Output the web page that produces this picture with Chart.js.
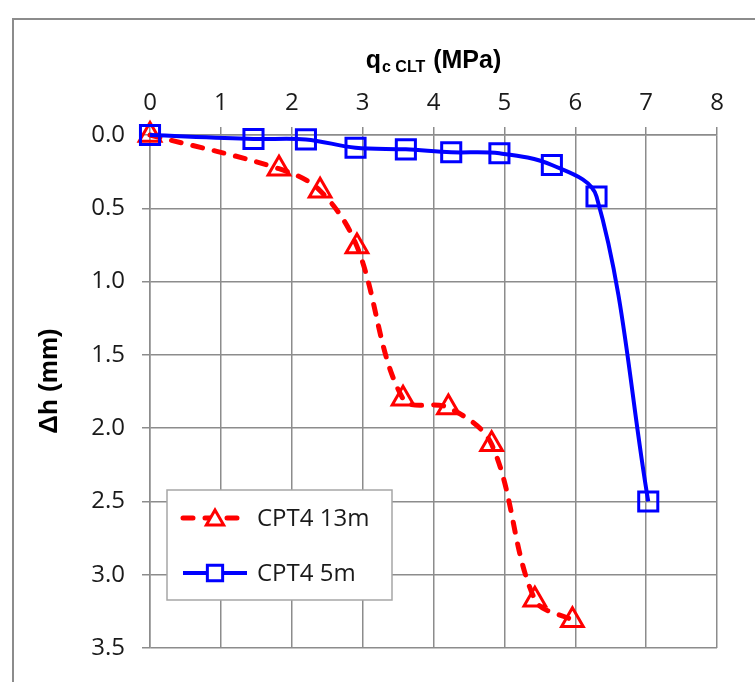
<!DOCTYPE html>
<html>
<head>
<meta charset="utf-8">
<script src="https://cdn.jsdelivr.net/npm/chart.js@4/dist/chart.umd.min.js"></script>
<style>
  html, body { margin: 0; padding: 0; background: #ffffff; overflow: hidden; }
  #wrap { position: relative; width: 755px; height: 682px; }
  #frame { position: absolute; left: 12px; top: 18px; width: 900px; height: 900px;
           border: 2px solid #8c8c8c; box-sizing: border-box; }
  canvas { position: absolute; left: 0; top: 0; }
</style>
</head>
<body>
<div id="wrap">
  <div id="frame"></div>
  <canvas id="chart" width="755" height="682"></canvas>
</div>
<script>
// Cone resistance (MPa) against settlement (mm) for the two CPT4 depths
const qc13m = [0, 1.82, 2.4, 2.92, 3.57, 4.21, 4.82, 5.43, 5.96];
const dh13m = [0, 0.23, 0.38, 0.76, 1.80, 1.86, 2.11, 3.17, 3.31];
const qc5m  = [0, 1.46, 2.20, 2.90, 3.61, 4.25, 4.93, 5.67, 6.30, 7.03];
const dh5m  = [0, 0.027, 0.03, 0.087, 0.098, 0.118, 0.125, 0.205, 0.42, 2.5];

const seriesNames = ['CPT4 13m', 'CPT4 5m'];
const xTicks = [0, 1, 2, 3, 4, 5, 6, 7, 8];
const yTicks = [0.0, 0.5, 1.0, 1.5, 2.0, 2.5, 3.0, 3.5];

const toPoints = (xs, ys) => xs.map((x, i) => ({ x: x, y: ys[i] }));

const gridColor = '#8c8c8c';
const textFamily = "'Open Sans', 'Noto Sans', sans-serif";
const tickFont = { family: textFamily, size: 24 };

// Axis titles (x title carries a subscript) and the boxed legend
const decorations = {
  id: 'decorations',
  afterDraw(chart) {
    const ctx = chart.ctx;
    const area = chart.chartArea;
    ctx.save();
    ctx.fillStyle = '#000000';

    // x title: q with subscript "c CLT", then " (MPa)"
    const big = "bold 25px 'Liberation Sans', Arial, sans-serif";
    const small = "bold 16px 'Liberation Sans', Arial, sans-serif";
    const p1 = 'q', p2 = 'c CLT', p3 = ' (MPa)';
    ctx.font = big; const w1 = ctx.measureText(p1).width; const w3 = ctx.measureText(p3).width;
    ctx.font = small; const w2 = ctx.measureText(p2).width + 2;
    const total = w1 + w2 + w3;
    let tx = (area.left + area.right) / 2 - total / 2;
    const ty = 68;
    ctx.textBaseline = 'alphabetic';
    ctx.textAlign = 'left';
    ctx.font = big; ctx.fillText(p1, tx, ty); tx += w1 + 1;
    ctx.font = small; ctx.fillText(p2, tx, ty + 4); tx += w2 - 1;
    ctx.font = big; ctx.fillText(p3, tx, ty);

    // y title
    ctx.save();
    ctx.translate(50, 381);
    ctx.rotate(-Math.PI / 2);
    ctx.font = "bold 26px 'Liberation Sans', Arial, sans-serif";
    ctx.textAlign = 'center';
    ctx.textBaseline = 'middle';
    ctx.fillText('\u0394h (mm)', 0, 0);
    ctx.restore();

    // legend box
    const lx = area.left + 17, ly = area.top + 355, lw = 225, lh = 110;
    ctx.fillStyle = '#ffffff';
    ctx.fillRect(lx, ly, lw, lh);
    ctx.strokeStyle = '#a6a6a6';
    ctx.lineWidth = 1.5;
    ctx.strokeRect(lx, ly, lw, lh);

    const rows = [chart.data.datasets.find(d => d.label === seriesNames[0]),
                  chart.data.datasets.find(d => d.label === seriesNames[1])];
    rows.forEach((ds, i) => {
      const yy = ly + 28 + i * 55;
      ctx.save();
      ctx.strokeStyle = ds.borderColor;
      ctx.lineWidth = ds.borderWidth;
      ctx.lineCap = ds.borderCapStyle || 'butt';
      ctx.setLineDash(ds.borderDash || []);
      ctx.beginPath();
      ctx.moveTo(lx + 16, yy);
      ctx.lineTo(lx + 80, yy);
      ctx.stroke();
      ctx.setLineDash([]);
      ctx.strokeStyle = ds.pointBorderColor;
      ctx.fillStyle = '#ffffff';
      ctx.lineWidth = ds.pointBorderWidth;
      Chart.helpers.drawPoint(ctx, {
        pointStyle: ds.pointStyle,
        radius: ds.pointRadius * 0.8,
        rotation: 0,
        borderWidth: ds.pointBorderWidth
      }, lx + 48, yy + (ds.pointStyle === 'triangle' ? 2 : 0));
      ctx.restore();
      ctx.fillStyle = '#1a1a1a';
      ctx.font = '24px ' + textFamily;
      ctx.textAlign = 'left';
      ctx.textBaseline = 'middle';
      ctx.fillText(ds.label, lx + 90, yy + 1);
    });
    ctx.restore();
  }
};

new Chart(document.getElementById('chart'), {
  type: 'scatter',
  data: {
    datasets: [
      {
        label: seriesNames[1],
        data: toPoints(qc5m, dh5m),
        showLine: true,
        tension: 0.35,
        borderColor: '#0000ff',
        backgroundColor: 'rgba(0,0,0,0)',
        borderWidth: 4,
        pointStyle: 'rect',
        pointRadius: 13.5,
        pointBorderWidth: 3,
        pointBorderColor: '#0000ff',
        pointBackgroundColor: 'rgba(0,0,0,0)',
        clip: false,
        order: 0
      },
      {
        label: seriesNames[0],
        data: toPoints(qc13m, dh13m),
        showLine: true,
        tension: 0.35,
        borderColor: '#ff0000',
        backgroundColor: 'rgba(0,0,0,0)',
        borderWidth: 5,
        borderDash: [10, 12],
        borderCapStyle: 'round',
        pointStyle: 'triangle',
        pointRadius: 12.5,
        pointBorderWidth: 3,
        pointBorderColor: '#ff0000',
        pointBackgroundColor: 'rgba(0,0,0,0)',
        clip: false,
        order: 1
      }
    ]
  },
  options: {
    responsive: false,
    animation: false,
    devicePixelRatio: 1,
    layout: { padding: { left: 0, top: 0, right: 38, bottom: 34 } },
    plugins: { legend: { display: false }, tooltip: { enabled: false } },
    scales: {
      x: {
        type: 'linear',
        position: 'top',
        min: xTicks[0],
        max: xTicks[xTicks.length - 1],
        afterBuildTicks: s => { s.ticks = xTicks.map(v => ({ value: v })); },
        afterFit: s => { s.height = 135; },
        ticks: { font: tickFont, color: '#1a1a1a', padding: 9, maxRotation: 0 },
        grid: { color: gridColor, lineWidth: 1.5, tickLength: 8 },
        border: { color: gridColor, width: 1.5 }
      },
      y: {
        type: 'linear',
        reverse: true,
        min: yTicks[0],
        max: yTicks[yTicks.length - 1],
        afterBuildTicks: s => { s.ticks = yTicks.map(v => ({ value: v })); },
        afterFit: s => { s.width = 150; },
        ticks: { font: tickFont, color: '#1a1a1a', padding: 17,
                 callback: v => Number(v).toFixed(1) },
        grid: { color: gridColor, lineWidth: 1.5, tickLength: 8 },
        border: { color: gridColor, width: 1.5 }
      }
    }
  },
  plugins: [decorations]
});
</script>
</body>
</html>
